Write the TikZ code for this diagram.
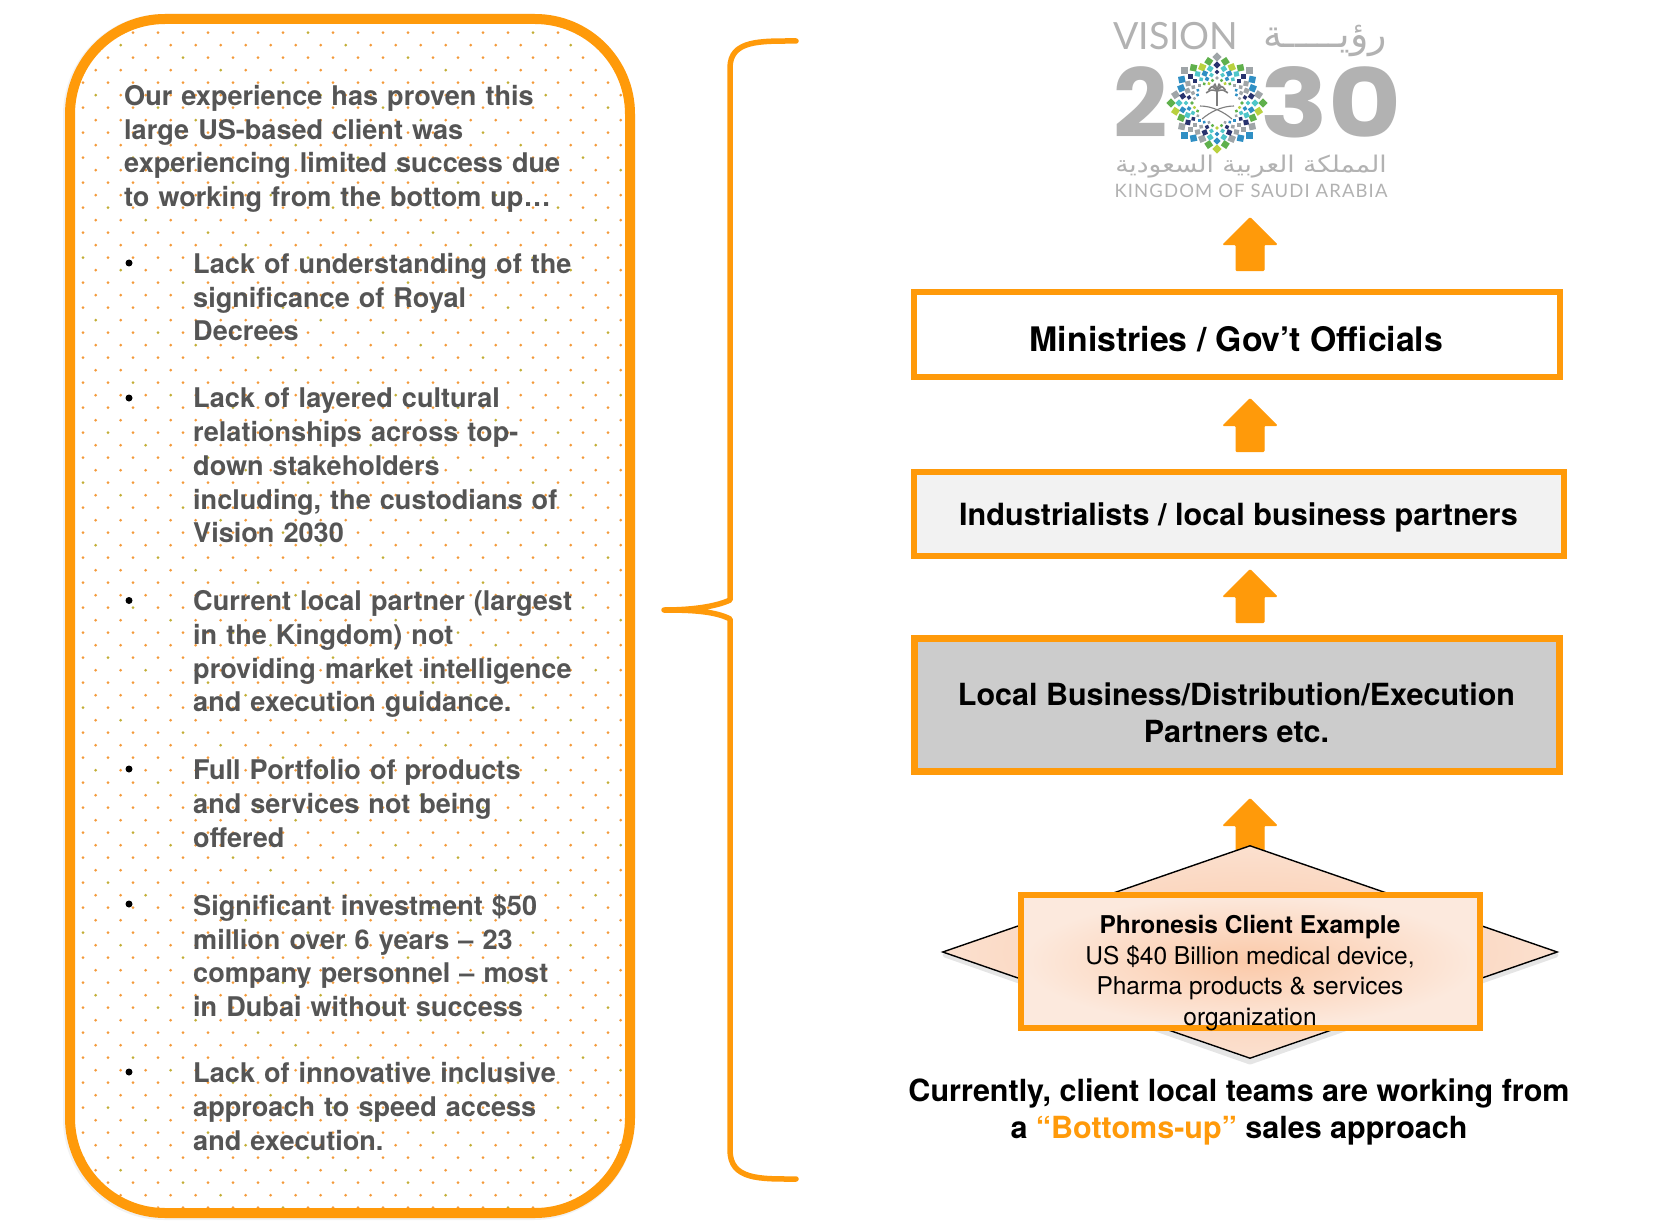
\documentclass[tikz,border=0pt]{standalone}
\usepackage{fontspec}
\usetikzlibrary{shapes.geometric,shapes.arrows,shadows}
\setmainfont{TeX Gyre Heros}
\newfontfamily\logofont{Lato}
\newfontfamily\logospaced[LetterSpace=6]{Lato}
\newfontfamily\digitfont{Poppins}
\newfontfamily\arabicfont[Script=Arabic]{DejaVu Sans}
\TeXXeTstate=1
\definecolor{org}{HTML}{FF9A0A}
\definecolor{txtgray}{HTML}{555555}
\definecolor{logogray}{HTML}{B2B2B2}
\definecolor{logoc0}{HTML}{25A8A0}
\definecolor{logoc1}{HTML}{28336E}
\definecolor{logoc2}{HTML}{B9D13F}
\definecolor{logoc3}{HTML}{5FB04C}
\definecolor{logoc4}{HTML}{2F8FC4}
\definecolor{logoc5}{HTML}{4FC6C9}
\definecolor{logoc6}{HTML}{9FA5A8}
\definecolor{peach}{HTML}{FBE0CF}
\definecolor{peachdeep}{HTML}{FBC9A8}
\definecolor{dotorg}{HTML}{F49A3A}
\definecolor{dotolv}{HTML}{C2AE35}
\tikzset{
  lefttext/.style={anchor=north west,inner sep=0pt,text=txtgray,align=left,text width=#1,font=\bfseries\fontsize{27.1}{33.7}\selectfont},
  lefttext/.default=440pt,
  bul/.style={circle,fill=black,inner sep=0pt,minimum size=7pt},
  flowbox/.style={draw=org,line width=6pt,inner sep=0pt,align=center,text=black,miter limit=10},
  flowtext/.style={align=center,inner sep=0pt,text=black},
  uparrow/.style={single arrow,draw=org,fill=org,line width=1pt,rounded corners=1pt,shape border rotate=90,inner sep=13.5pt,single arrow head extend=13pt,minimum height=53pt,anchor=tip,text width=0pt,text height=0pt,text depth=0pt},
  bracestroke/.style={draw=org,line width=5.5pt,line cap=round,line join=round},
  logotext/.style={text=logogray,inner sep=0pt},
}
\begin{document}
\begin{tikzpicture}[x=1pt,y=-1pt]
\useasboundingbox (0,0) rectangle (1655,1225);
\fill[white] (0,0) rectangle (1655,1225);

% left panel: soft shadow, dots, outline
\draw[black,opacity=.05,line width=12pt,rounded corners=95pt] (69,20) rectangle (629,1214);
\fill[white,rounded corners=95pt] (70,19) rectangle (630,1213);
\begin{scope}
\clip[rounded corners=90pt] (75,24) rectangle (625,1208);
\foreach \r in {0,...,95}{
  \foreach \c in {0,...,22}{
    \pgfmathsetmacro{\dx}{mod(\r,2)==0 ? 83 : 70.7}
    \pgfmathtruncatemacro{\ol}{mod(\c*2+\r*5,9)==0 ? 1 : 0}
    \ifnum\ol=1 \def\dc{dotolv}\else\def\dc{dotorg}\fi
    \fill[\dc] ({\dx+25*\c},{32.7+12.5*\r}) circle (1.5pt);
  }
}
\end{scope}
\node[draw=org,line width=10pt,rounded corners=95pt,minimum width=560pt,minimum height=1194pt,inner sep=0pt] (panel) at (350,616) {};

% left text
\node[lefttext=490pt] (intro) at (124,85) {Our experience has proven this\\large US-based client was\\experiencing limited success due\\to working from the bottom up\ldots};
\node[lefttext] (t1) at (193,253) {Lack of understanding of the\\significance of Royal\\Decrees};
\node[lefttext] (t2) at (193,388) {Lack of layered cultural\\relationships across top-\\down stakeholders\\including, the custodians of\\Vision 2030};
\node[lefttext] (t3) at (193,590.5) {Current local partner (largest\\in the Kingdom) not\\providing market intelligence\\and execution guidance.};
\node[lefttext] (t4) at (193,759.5) {Full Portfolio of products\\and services not being\\offered};
\node[lefttext] (t5) at (193,894.5) {Significant investment \$50\\million over 6 years -- 23\\company personnel -- most\\in Dubai without success};
\node[lefttext] (t6) at (193,1062.5) {Lack of innovative inclusive\\approach to speed access\\and execution.};
\node[bul] (b1) at (129,263) {};
\node[bul] (b2) at (129,398) {};
\node[bul] (b3) at (129,600.5) {};
\node[bul] (b4) at (129,769) {};
\node[bul] (b5) at (129,904) {};
\node[bul] (b6) at (129,1072) {};

% brace
\draw[bracestroke] (796,41) .. controls (760,41) and (730,40) .. (730,68)
  -- (730,600) .. controls (715,607) and (690,610) .. (664,610)
  .. controls (690,610) and (715,611) .. (730,619)
  -- (730,1150) .. controls (730,1180) and (760,1179) .. (796,1179);

% logo
\node[logotext,anchor=base west,font=\logofont\fontsize{37.5}{39}\selectfont] (vision) at (1113,50) {VISION};
\node[logotext,anchor=base east,font=\arabicfont\fontsize{38}{38}\selectfont] (ruya) at (1387,48) {\beginR رؤيـــــة\endR};
\node[logotext,anchor=base west,font=\digitfont\bfseries\fontsize{95}{95}\selectfont] (two) at (1113,138) {2};
\node[logotext,anchor=base west,font=\digitfont\bfseries\fontsize{95}{95}\selectfont] (thirty) at (1260,138) {\scalebox{1.18}[1]{30}};
\foreach \R/\s in {46/6.5,38/5,31/3.5,25/2.5}{
  \foreach \k in {0,...,31}{
    \pgfmathsetmacro{\th}{90+\k*11.25}
    \pgfmathsetmacro{\tri}{1-abs(mod(\k*11.25,45)-22.5)/22.5}
    \pgfmathsetmacro{\rad}{\R*(1-0.16*\tri)}
    \pgfmathtruncatemacro{\idx}{mod(\k*3+int(\R)*5+\k*\k,7)}
    \fill[logoc\idx,rotate around={\th+45:({1217+\rad*cos(\th)},{103-\rad*sin(\th)})}]
      ({1217+\rad*cos(\th)-\s/2},{103-\rad*sin(\th)-\s/2}) rectangle ++(\s,\s);
  }
}
% palm and swords
\draw[logogray!70!black,line width=2.2pt] (1217,90) -- (1217,106);
\foreach \a in {10,40,70,110,140,170}{
  \draw[logogray!70!black,line width=1.6pt] (1217,91) .. controls ({1217+6*cos(\a)},{91-9*sin(\a)}) .. ({1217+11*cos(\a)},{91-6*sin(\a)+3});
}
\draw[logogray!70!black,line width=1.1pt] (1200,106) .. controls (1212,106) and (1224,112) .. (1232,119);
\draw[logogray!70!black,line width=1.1pt] (1234,106) .. controls (1222,106) and (1210,112) .. (1202,119);
\node[logotext,anchor=base,font=\arabicfont\fontsize{23}{23}\selectfont] (kingar) at (1251,173) {\scalebox{1.15}[1]{\beginR المملكة العربية السعودية\endR}};
\node[logotext,anchor=base,font=\logospaced\fontsize{18.5}{18.5}\selectfont] (kingen) at (1251,198) {KINGDOM OF SAUDI ARABIA};

% flow boxes
\node[flowbox,fill=white,minimum width=646pt,minimum height=85pt] (min) at (1236.5,334) {};
\node[flowtext,font=\bfseries\fontsize{33.8}{37}\selectfont] (mintext) at (1236.5,339) {Ministries / Gov’t Officials};
\node[flowbox,fill=black!5,minimum width=650pt,minimum height=84pt] (ind) at (1238.5,514) {};
\node[flowtext,font=\bfseries\fontsize{30.6}{37}\selectfont] (indtext) at (1238.5,517) {Industrialists / local business partners};
\node[flowbox,fill=black!20,line width=7pt,minimum width=645pt,minimum height=133pt] (loc) at (1236.5,705) {};
\node[flowtext,font=\bfseries\fontsize{30.5}{37}\selectfont] (loctext) at (1236.5,712.5) {Local Business/Distribution/Execution\\Partners etc.};

% arrows
\node[uparrow] (a1) at (1250,217) {};
\node[uparrow] (a2) at (1250,398) {};
\node[uparrow] (a3) at (1250,569) {};
\node[uparrow] (a4) at (1250,798) {};

% diamond and client box
\draw[black,opacity=.10,line width=5pt,line join=round] (945,955) -- (1250,849) -- (1556,955) -- (1250,1062) -- cycle;
\node[diamond,draw=black,line width=1.4pt,inner color=peachdeep,outer color=peach,minimum width=615pt,minimum height=213pt,inner sep=0pt,aspect=2.9] (dia) at (1250,952) {};
\node[draw=org,line width=6pt,inner color=peachdeep,outer color=peach!70,minimum width=459pt,minimum height=133pt,inner sep=0pt] (client) at (1250,961) {};
\node[align=center,anchor=north,inner sep=0pt,text=black,font=\fontsize{24.5}{30.6}\selectfont] (clienttext) at (1250,915) {{\bfseries Phronesis Client Example}\\US \$40 Billion medical device,\\Pharma products \& services\\organization};

% caption
\node[align=center,anchor=north,inner sep=0pt,text=black,font=\bfseries\fontsize{30.5}{37}\selectfont] (cap) at (1239,1079) {Currently, client local teams are working from\\a \textcolor{org}{“Bottoms-up”} sales approach};
\end{tikzpicture}
\end{document}
